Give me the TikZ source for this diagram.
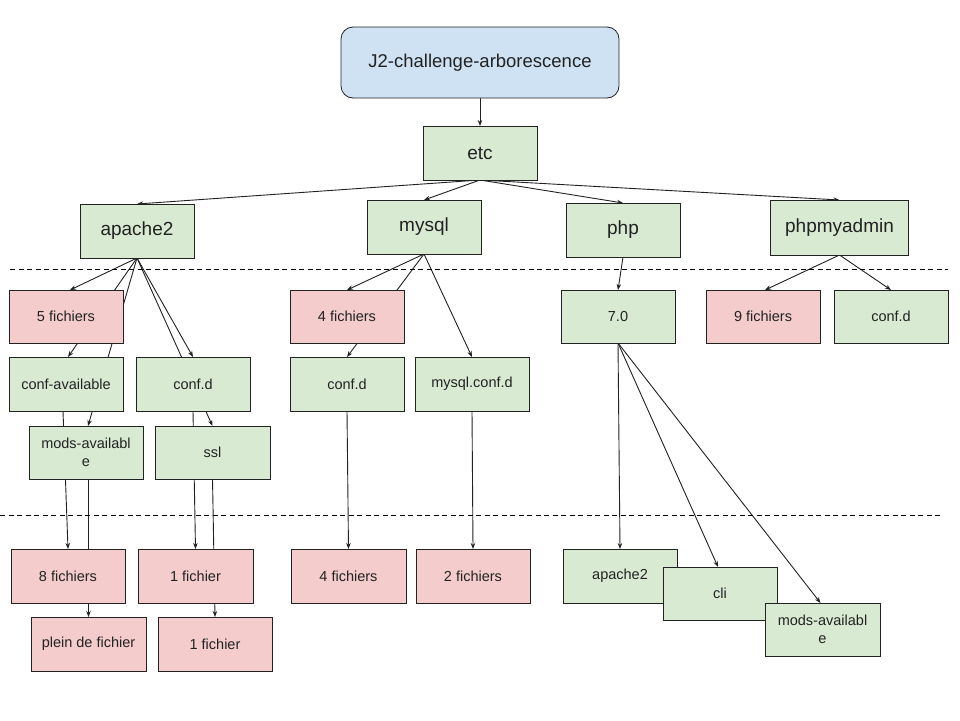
\documentclass[tikz,border=0pt]{standalone}
\usepackage{fontspec}
\setmainfont{Liberation Sans}
\usetikzlibrary{arrows.meta,backgrounds,calc}
\definecolor{gfill}{HTML}{D9EAD3}
\definecolor{pfill}{HTML}{F4CCCC}
\definecolor{bfill}{HTML}{CFE2F3}
\definecolor{ink}{HTML}{222222}
\definecolor{lnk}{HTML}{222222}
\tikzset{
  box/.style={draw=ink, line width=0.8pt, inner sep=0pt, outer sep=0pt, align=center, text=ink},
  big/.style={box, font=\fontsize{19}{22}\selectfont},
  small/.style={box, font=\fontsize{14.5}{17.5}\selectfont},
  gbig/.style={big, fill=gfill},
  gsmall/.style={small, fill=gfill},
  psmall/.style={small, fill=pfill},
  sz/.style n args={2}{minimum width=#1pt, minimum height=#2pt},
  conn/.style={draw=lnk, line width=0.9pt, -{Stealth[length=6pt,width=4.5pt]}},
  sep/.style={draw=black, line width=0.8pt, dash pattern=on 5pt off 3.5pt}
}
\begin{document}
\begin{tikzpicture}[x=1pt,y=-1pt]
\useasboundingbox (0,0) rectangle (960,720);
% nodes
\node[big, fill=bfill, rounded corners=12pt, sz={278}{71}, font=\fontsize{18.5}{22}\selectfont] (root) at (480,62.5) {J2-challenge-arborescence};
\node[gbig, sz={114}{54}] (etc) at (480,153) {etc};
\node[gbig, sz={114}{54}] (ap) at (137,231) {apache2};
\node[gbig, sz={114}{54}] (my) at (424,227) {mysql};
\node[gbig, sz={114}{54}] (php) at (623,230) {php};
\node[gbig, sz={138}{55}] (pma) at (839.5,227.5) {phpmyadmin};
\node[psmall, sz={114}{53}] (f5) at (66,316.5) {5 fichiers};
\node[gsmall, sz={114}{54}] (confav) at (66,384) {conf-available};
\node[gsmall, sz={114}{54}] (confd) at (193,384) {conf.d};
\node[gsmall, sz={114}{53}] (mods) at (86,452.5) {mods-availabl\\e};
\node[gsmall, sz={115}{53}] (ssl) at (212.5,452.5) {ssl};
\node[psmall, sz={114}{53}] (f4) at (347,316.5) {4 fichiers};
\node[gsmall, sz={114}{54}] (mconfd) at (347,384) {conf.d};
\node[gsmall, sz={114}{54}] (myconfd) at (472,384) {mysql.conf.d};
\node[gsmall, sz={114}{53}] (v70) at (618,316.5) {7.0};
\node[psmall, sz={114}{53}] (f9) at (763,316.5) {9 fichiers};
\node[gsmall, sz={114}{53}] (pconfd) at (891,316.5) {conf.d};
\node[psmall, sz={114}{54}] (f8) at (68,576) {8 fichiers};
\node[psmall, sz={115}{54}] (f1) at (195.5,576) {1 fichier};
\node[psmall, sz={115}{54}] (plein) at (88.5,644) {plein de fichier};
\node[psmall, sz={114}{54}] (f1b) at (215,644) {1 fichier};
\node[psmall, sz={115}{54}] (f4b) at (348.5,576) {4 fichiers};
\node[psmall, sz={114}{54}] (f2) at (473,576) {2 fichiers};
\node[gsmall, sz={114}{54}] (pap) at (620,576) {apache2};
\node[gsmall, sz={114}{53}] (cli) at (720,593.5) {cli};
\node[gsmall, sz={115}{53}] (pmods) at (822.5,629.5) {mods-availabl\\e};
% separators
\coordinate (s1a) at (10,269); \coordinate (s1b) at (948,269);
\coordinate (s2a) at (0,515); \coordinate (s2b) at (940,515);
\draw[sep] (s1a) -- (s1b);
\draw[sep] (s2a) -- (s2b);
% connectors behind boxes
\begin{pgfonlayer}{background}
\fill[white] (0,0) rectangle (960,720);
\draw[conn] (root.south) -- (etc.north);
\draw[conn] (etc.south) -- (ap.north);
\draw[conn] (etc.south) -- (my.north);
\draw[conn] (etc.south) -- (php.north);
\draw[conn] (etc.south) -- (pma.north);
% apache2
\draw[conn] (ap.south) -- ([xshift=4pt]f5.north);
\draw[conn] (ap.south) -- ([xshift=2pt]confav.north);
\draw[conn] (ap.south) -- ([xshift=2pt]mods.north);
\draw[conn] (ap.south) -- (confd.north);
\draw[conn] (ap.south) -- (ssl.north);
\draw[conn] ([xshift=-3pt]confav.south) -- (f8.north);
\draw[conn] (plein.north |- mods.south) -- (plein.north);
\draw[conn] (confd.south) -- (f1.north);
\draw[conn] (ssl.south) -- (f1b.north);
% mysql
\draw[conn] (my.south) -- (f4.north);
\draw[conn] (my.south) -- (mconfd.north);
\draw[conn] (my.south) -- (myconfd.north);
\draw[conn] (mconfd.south) -- (f4b.north);
\draw[conn] (myconfd.south) -- (f2.north);
% php
\draw[conn] (php.south) -- (v70.north);
\draw[conn] (v70.south) -- (pap.north);
\draw[conn] (v70.south) -- ([xshift=-2pt]cli.north);
\draw[conn] (v70.south) -- ([xshift=-2pt]pmods.north);
% phpmyadmin
\draw[conn] (pma.south) -- ([xshift=2pt]f9.north);
\draw[conn] (pma.south) -- (pconfd.north);
\end{pgfonlayer}
\end{tikzpicture}
\end{document}
